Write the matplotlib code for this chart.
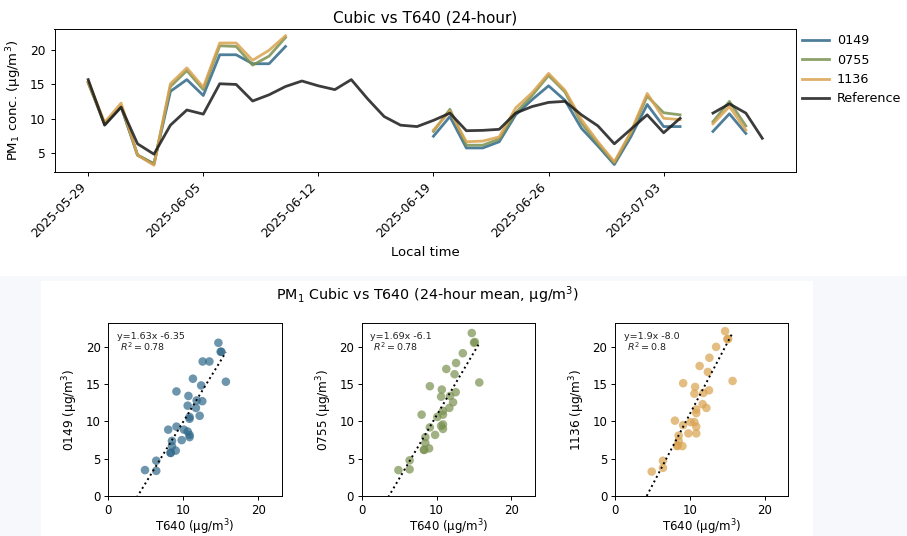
import numpy as np
import pandas as pd
import matplotlib
matplotlib.use('Agg')
import matplotlib.pyplot as plt
import matplotlib.dates as mdates
from matplotlib.patches import Rectangle

nan = np.nan

# daily means, 2025-05-29 .. 2025-07-09
dates = pd.date_range('2025-05-29', periods=42, freq='D')

t640 = [15.7, 9.1, 11.7, 6.4, 4.9, 9.1, 11.3, 10.7, 15.1, 15.0,
        12.6, 13.5, 14.7, 15.5, 14.8, 14.25, 15.7, 12.9, 10.35, 9.1,
        8.9, 9.8, 10.85, 8.3, 8.35, 8.5, 10.85, 11.8, 12.4, 12.55,
        10.6, 9.0, 6.4, 8.5, 10.6, 8.0, 10.1, nan, 10.85, 12.2,
        10.85, 7.2]

s0149 = [15.3, 9.3, 11.8, 4.75, 3.5, 14.0, 15.7, 13.4, 19.3, 19.3,
         18.0, 18.0, 20.5, nan, nan, nan, nan, nan, nan, nan,
         nan, 7.5, 10.35, 5.8, 5.8, 6.7, 10.6, 12.8, 14.8, 12.7,
         8.65, 6.1, 3.4, 7.4, 12.1, 8.9, 8.9, nan, 8.2, 10.75,
         7.9, nan]

s0755 = [15.2, 9.2, 11.8, 4.8, 3.5, 14.7, 17.0, 14.25, 20.6, 20.5,
         17.8, 19.1, 21.8, nan, nan, nan, nan, nan, nan, nan,
         nan, 8.2, 11.4, 6.2, 6.2, 7.1, 10.9, 13.4, 16.3, 13.9,
         9.4, 6.4, 3.6, 7.9, 13.3, 10.9, 10.6, nan, 9.6, 12.55,
         9.0, nan]

s1136 = [15.4, 9.5, 12.3, 4.75, 3.3, 15.1, 17.4, 14.6, 21.0, 21.0,
         18.5, 19.95, 22.05, nan, nan, nan, nan, nan, nan, nan,
         nan, 8.4, 11.1, 6.7, 6.8, 7.4, 11.6, 13.8, 16.6, 14.15,
         9.9, 6.7, 3.8, 8.1, 13.7, 10.1, 9.9, nan, 9.3, 11.8,
         8.4, nan]

sensors = ['0149', '0755', '1136']
colors = ['#2f6889', '#7a9150', '#d9a24f']

# fit results printed on the scatter panels
fit_slope = [1.63, 1.69, 1.9]
fit_intercept = [-6.35, -6.1, -8.0]
fit_r2 = [0.78, 0.78, 0.8]

plt.rcParams['font.family'] = 'DejaVu Sans'
W, H = 907, 536
fig = plt.figure(figsize=(W / 100, H / 100), dpi=100, facecolor='#f7f8fc')

# white panels for the two images
fig.patches.append(Rectangle((0, 1 - 276 / H), 1, 276 / H, transform=fig.transFigure,
                             facecolor='white', edgecolor='none', zorder=-1))
fig.patches.append(Rectangle((41 / W, 0), (813 - 41) / W, (H - 281) / H, transform=fig.transFigure,
                             facecolor='white', edgecolor='none', zorder=-1))

# ---- time series ----
ax = fig.add_axes([54.5 / W, 1 - 171.7 / H, 741.5 / W, 142.4 / H])
series = [s0149, s0755, s1136]
for name, vals, c in zip(sensors, series, colors):
    ax.plot(dates, vals, color=c, lw=2.0, alpha=0.85, label=name)
ax.plot(dates, t640, color='#1a1a1a', lw=2.0, alpha=0.85, label='Reference')

ax.set_xticks(pd.date_range('2025-05-29', '2025-07-03', freq='7D'))
ax.xaxis.set_major_formatter(mdates.DateFormatter('%Y-%m-%d'))
plt.setp(ax.get_xticklabels(), rotation=45, ha='right')
ax.set_yticks([5, 10, 15, 20])
ax.tick_params(labelsize=8.8, width=0.7, length=3)
for s in ax.spines.values():
    s.set_linewidth(0.7)
ax.set_title('Cubic vs T640 (24-hour)', fontsize=11, pad=5)
ax.set_xlabel('Local time', fontsize=9.5)
ax.set_ylabel('PM$_1$ conc. (µg/m$^3$)', fontsize=9.5)
ax.legend(loc='upper left', bbox_to_anchor=(1.0, 1.01), frameon=False, fontsize=9.2,
          handlelength=2.1, handletextpad=0.6, borderaxespad=0.2, borderpad=0.3,
          labelspacing=0.5)

# ---- scatter panels ----
fig.text(427 / W, 1 - 295 / H, 'PM$_1$ Cubic vs T640 (24-hour mean, µg/m$^3$)',
         ha='center', va='center', fontsize=10.3)

ref = np.array(t640)
lim = np.nanmax(np.array(series)) * 1.05
lefts = [108.3, 361.7, 615.0]
for k, (name, vals, c) in enumerate(zip(sensors, series, colors)):
    y = np.array(vals)
    ok = ~np.isnan(ref) & ~np.isnan(y)
    sx = fig.add_axes([lefts[k] / W, 1 - 496.3 / H, 173.4 / W, 173.4 / H])
    sx.scatter(ref[ok], y[ok], color=c, alpha=0.7, s=38, edgecolors='none')
    xl = np.linspace(0, ref[ok].max(), 50)
    sx.plot(xl, fit_slope[k] * xl + fit_intercept[k], 'k:', lw=1.4)
    sx.set_xlim(0, lim)
    sx.set_ylim(0, lim)
    sx.set_xticks([0, 10, 20])
    sx.set_yticks([0, 5, 10, 15, 20])
    sx.tick_params(labelsize=8.5, width=0.7, length=3, pad=2.5)
    for s in sx.spines.values():
        s.set_linewidth(0.7)
    sx.set_xlabel('T640 (µg/m$^3$)', fontsize=8.5, labelpad=0.5)
    sx.set_ylabel(name + ' (µg/m$^3$)', fontsize=8.7)
    sx.text(0.05, 0.95, 'y=' + str(fit_slope[k]) + 'x ' + str(fit_intercept[k])
            + '\n $R^2=' + str(fit_r2[k]) + '$',
            transform=sx.transAxes, ha='left', va='top', fontsize=6.8, color='#222222',
            linespacing=1.0)

fig.savefig('out.png', dpi=100, facecolor=fig.get_facecolor())
